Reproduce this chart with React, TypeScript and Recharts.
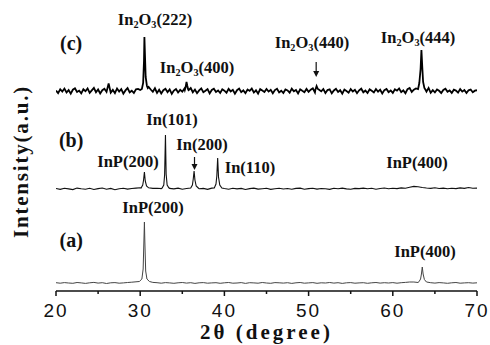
import React from "react";
import {
  LineChart,
  Line,
  XAxis,
  YAxis,
  ReferenceDot,
  ReferenceLine,
} from "recharts";

// background noise, 2θ from 20° in 0.5° steps (a, b) and 0.25° steps (c)
const bgA = [
  0.3, -0.2, 0.4, 0.0, -0.3, 0.5, 0.1, -0.4, 0.2, 0.6,
  -0.1, 0.3, -0.5, 0.2, 0.4, -0.2, 0.1, 0.5, 0.8, 1.2,
  1.5, 2.0, 1.2, 0.6, 0.3, -0.2, 0.4, 0.1, -0.3, 0.2,
  0.5, -0.1, 0.3, -0.4, 0.2, 0.4, -0.2, 0.1, 0.3, -0.3,
  0.2, 0.5, -0.2, 0.0, 0.4, -0.4, 0.3, 0.1, -0.2, 0.5,
  0.0, -0.3, 0.4, 0.2, -0.1, 0.3, -0.4, 0.2, 0.5, -0.2,
  0.1, 0.4, -0.3, 0.2, 0.0, 0.5, -0.1, 0.3, -0.4, 0.2,
  0.4, -0.2, 0.1, 0.3, -0.3, 0.2, 0.5, -0.1, 0.3, 0.0,
  0.4, -0.2, 0.3, 0.6, 1.0, 1.0, 0.5, 0.2, -0.3, 0.3,
  -0.1, 0.4, 0.1, -0.3, 0.2, 0.5, -0.2, 0.1, 0.3, -0.1,
  0.2,
];

const bgB = [
  0.5, -0.4, 0.8, 0.1, -0.6, 0.9, 0.2, -0.3, 0.7, -0.5,
  0.4, 1.0, -0.2, 0.6, -0.7, 0.3, 0.8, -0.1, 0.5, 0.9,
  1.2, 2.0, 1.0, 0.6, 0.8, 0.4, -0.2, 0.6, 0.1, 0.9,
  -0.3, 0.5, 0.8, 0.4, 0.2, 0.6, -0.4, 0.9, 0.3, 0.7,
  0.5, -0.2, 0.8, 0.1, 0.6, -0.5, 0.4, 0.9, -0.1, 0.3,
  0.7, -0.4, 0.2, 0.8, 0.0, 0.5, -0.3, 0.6, 0.9, -0.2,
  0.4, 0.8, -0.1, 0.5, 0.2, -0.4, 0.7, 0.3, 0.9, 0.1,
  -0.3, 0.6, 0.4, 0.9, 0.2, 0.7, -0.2, 0.5, 1.0, 0.3,
  0.8, 0.4, 1.1, 0.7, 1.8, 2.6, 2.2, 1.5, 1.0, 0.6,
  1.2, 0.5, 0.9, 0.2, 0.8, 0.4, 1.1, 0.6, 1.5, 0.7,
  0.9,
];

const bgC = [
  0.5, -2.1, 1.8, -0.6, 2.4, -1.5, 0.9, -2.6, 1.3, 2.8,
  -1.0, 0.4, -2.3, 1.7, -0.2, 2.6, -1.8, 0.7, 3.2, -1.2,
  1.5, -2.4, 0.8, 2.2, -0.9, 7.5, -1.6, 1.1, -2.2, 2.5,
  -0.5, 1.9, -2.7, 0.6, 2.9, -1.3, 0.3, -2.0, 1.6, 2.1,
  1.0, -1.4, 2.0, 3.1, 4.0, 1.5, -0.8, 2.7, -1.9, 1.2,
  -2.5, 0.8, 2.3, -1.1, 1.6, -2.8, 0.4, 2.0, -1.5, 1.1,
  -0.7, 2.4, -1.6, 0.9, 3.0, -1.2, 1.5, -2.2, 0.6, 2.6,
  -1.3, 0.2, 1.9, -2.4, 1.0, 2.3, -0.9, 0.5, -2.0, 1.7,
  0.3, -1.8, 2.1, -0.4, 1.2, -2.6, 0.8, 2.4, -1.1, 0.6,
  -2.2, 1.4, 0.1, 2.5, -1.5, 0.7, -2.7, 1.8, 0.4, -1.0,
  2.0, -0.6, 1.1, -2.3, 0.9, 2.2, -1.4, 0.3, -2.0, 1.5,
  0.6, -1.7, 2.4, -0.3, 1.0, -2.5, 1.7, 0.2, -1.2, 2.1,
  -0.8, 1.3, 2.6, -1.5, 3.0, 1.2, -0.4, 2.0, -2.1, 0.9,
  1.6, -2.4, 0.5, 2.2, -1.0, 0.8, -2.6, 1.4, 0.0, -1.6,
  1.9, -0.5, 1.2, -2.2, 0.7, 2.3, -1.3, 0.4, -2.0, 1.6,
  0.2, -1.5, 2.0, -0.7, 1.3, -2.4, 0.9, 2.1, -1.1, 0.5,
  -1.9, 1.7, 0.3, 2.5, -1.2, 0.6, -2.2, 1.8, 3.0, -0.9,
  1.4, 2.6, -1.3, 0.8, 2.0, 1.2, -0.6, 3.1, -1.8, 0.9,
  -1.4, 1.6, 0.2, -2.1, 1.1, 2.3, -0.8, 0.5, -1.9, 1.3,
  0.4, -1.6, 1.9, -0.6, 1.0, -2.0, 0.7, 1.5, -1.2, 0.3,
  0.8,
];

// diffraction peaks as [2θ, intensity] points
const peaksA = [
  [[29.9, 1.5], [30.2, 4], [30.35, 14], [30.45, 45], [30.5, 61], [30.55, 42], [30.65, 12], [30.8, 4], [31.1, 1.5]],
  [[63.1, 1.2], [63.3, 4], [63.4, 9], [63.5, 16], [63.6, 9], [63.75, 3.5], [64.0, 1]],
];

const peaksB = [
  [[30.1, 1], [30.3, 4], [30.4, 9], [30.5, 17], [30.6, 8], [30.75, 3], [31.0, 1.2]],
  [[32.6, 1], [32.8, 4], [32.9, 14], [33.0, 54], [33.08, 15], [33.2, 4], [33.4, 1.2]],
  [[36.0, 1], [36.2, 4], [36.3, 10], [36.4, 18], [36.5, 9], [36.65, 3], [36.9, 1]],
  [[38.8, 1], [39.0, 5], [39.1, 13], [39.2, 31], [39.3, 12], [39.45, 4], [39.7, 1]],
];

const peaksC = [
  [[30.2, 2], [30.35, 8], [30.45, 30], [30.5, 54], [30.55, 40], [30.65, 14], [30.8, 5], [30.9, 3]],
  [[35.3, 1], [35.4, 4], [35.5, 9], [35.6, 5], [35.7, 1.5]],
  [[50.8, 1], [50.95, 5], [51.1, 2]],
  [[63.0, 2], [63.15, 8], [63.3, 22], [63.4, 41], [63.5, 24], [63.6, 9], [63.75, 3], [63.9, 1]],
];

// vertical stacking of the three patterns
const stackOffsets = { a: 8, b: 102, c: 200 };

const xTicks = [20, 25, 30, 35, 40, 45, 50, 55, 60, 65, 70];

const annotations = [
  { text: "(c)", t: 21.8, v: 241, size: 20 },
  { text: "In_2O_3(222)", t: 31.76, v: 266, size: 16.5 },
  { text: "In_2O_3(400)", t: 36.75, v: 218, size: 16.5 },
  { text: "In_2O_3(440)", t: 50.4, v: 243, size: 16.5 },
  { text: "In_2O_3(444)", t: 63.0, v: 248, size: 16.5 },
  { text: "(b)", t: 21.8, v: 144, size: 20 },
  { text: "In(101)", t: 33.78, v: 166, size: 16.5 },
  { text: "In(200)", t: 37.34, v: 141, size: 16.5 },
  { text: "InP(200)", t: 28.55, v: 124, size: 16.5 },
  { text: "In(110)", t: 43.04, v: 118, size: 16.5 },
  { text: "InP(400)", t: 62.87, v: 123, size: 16.5 },
  { text: "InP(200)", t: 31.52, v: 78, size: 16.5 },
  { text: "(a)", t: 21.8, v: 44, size: 20 },
  { text: "InP(400)", t: 63.82, v: 34, size: 16.5 },
];

const arrows = [
  { t: 36.45, from: 134, to: 121 },
  { t: 50.9, from: 229, to: 214 },
];

const SERIF = "'Liberation Serif', 'Times New Roman', serif";

function buildPattern(bg: number[], step: number, peaks: number[][][], offset: number) {
  const pts: { t: number; v: number }[] = [];
  bg.forEach((v, i) => {
    const t = 20 + i * step;
    if (peaks.some((p) => t >= p[0][0] && t <= p[p.length - 1][0])) return;
    pts.push({ t, v: v + offset });
  });
  peaks.forEach((p) => p.forEach(([t, v]) => pts.push({ t, v: v + offset })));
  return pts.sort((a, b) => a.t - b.t);
}

const dataA = buildPattern(bgA, 0.5, peaksA, stackOffsets.a);
const dataB = buildPattern(bgB, 0.5, peaksB, stackOffsets.b);
const dataC = buildPattern(bgC, 0.25, peaksC, stackOffsets.c);

const AnnText = ({ cx, cy, text, size }: any) => {
  const parts = text.split(/(_\d)/).filter(Boolean);
  return (
    <text x={cx} y={cy} textAnchor="middle" fontFamily={SERIF} fontWeight="bold" fontSize={size} fill="#111">
      {parts.map((p: string, i: number) => {
        if (p.startsWith("_")) {
          return (
            <tspan key={i} fontSize={size * 0.62} dy={3}>
              {p.slice(1)}
            </tspan>
          );
        }
        const prevSub = i > 0 && parts[i - 1].startsWith("_");
        return (
          <tspan key={i} dy={prevSub ? -3 : 0}>
            {p}
          </tspan>
        );
      })}
    </text>
  );
};

const ArrowHead = ({ cx, cy }: any) => (
  <path d={`M${cx - 3},${cy - 6} L${cx + 3},${cy - 6} L${cx},${cy} Z`} fill="#111" />
);

const XTick = ({ x, y, payload }: any) => {
  const major = payload.value % 10 === 0;
  return (
    <g>
      <line x1={x} x2={x} y1={y} y2={y + (major ? 5 : 3)} stroke="#111" strokeWidth={1.5} />
      {major && (
        <text
          x={x}
          y={y + 26}
          textAnchor="middle"
          fontFamily="'Liberation Sans', Arial, sans-serif"
          fontSize={19}
          letterSpacing={2}
          fill="#111"
        >
          {payload.value}
        </text>
      )}
    </g>
  );
};

const YTitle = ({ viewBox }: any) => {
  const cx = viewBox.x + 21;
  const cy = viewBox.y + viewBox.height / 2 + 16;
  return (
    <text
      x={cx}
      y={cy}
      transform={`rotate(-90 ${cx} ${cy})`}
      textAnchor="middle"
      dominantBaseline="central"
      fontFamily={SERIF}
      fontWeight="bold"
      fontSize={21}
      letterSpacing={1.8}
      fill="#111"
    >
      Intensity(a.u.)
    </text>
  );
};

export default function App() {
  return (
    <div style={{ position: "absolute", left: 0, top: 0, width: 490, height: 345, background: "#fff" }}>
      <LineChart width={490} height={345} margin={{ top: 0, right: 13, bottom: 0, left: 0 }}>
        <XAxis
          type="number"
          dataKey="t"
          domain={[20, 70]}
          ticks={xTicks}
          allowDataOverflow
          height={54}
          tickSize={0}
          tickMargin={0}
          tickLine={false}
          tick={<XTick />}
          axisLine={{ stroke: "#111", strokeWidth: 1.5 }}
          interval={0}
          label={{
            value: "2θ (degree)",
            position: "insideBottom",
            offset: 6,
            style: {
              fontFamily: SERIF,
              fontWeight: "bold",
              fontSize: 21,
              letterSpacing: 3,
              fill: "#111",
            },
          }}
        />
        <YAxis
          type="number"
          dataKey="v"
          domain={[0, 291]}
          width={56}
          axisLine={false}
          tickLine={false}
          tick={false}
          label={{ content: <YTitle /> }}
        />
        <Line data={dataA} dataKey="v" type="linear" stroke="#444" strokeWidth={1} dot={false} isAnimationActive={false} />
        <Line data={dataB} dataKey="v" type="linear" stroke="#111" strokeWidth={1.1} dot={false} isAnimationActive={false} />
        <Line data={dataC} dataKey="v" type="linear" stroke="#000" strokeWidth={1.8} dot={false} isAnimationActive={false} />
        {arrows.map((a, i) => (
          <ReferenceLine
            key={`al${i}`}
            segment={[
              { x: a.t, y: a.from },
              { x: a.t, y: a.to + 3 },
            ]}
            stroke="#111"
            strokeWidth={1.2}
            ifOverflow="visible"
          />
        ))}
        {arrows.map((a, i) => (
          <ReferenceDot key={`ah${i}`} x={a.t} y={a.to} r={1} ifOverflow="visible" shape={(p: any) => <ArrowHead cx={p.cx} cy={p.cy} />} />
        ))}
        {annotations.map((a, i) => (
          <ReferenceDot
            key={`an${i}`}
            x={a.t}
            y={a.v}
            r={1}
            ifOverflow="visible"
            shape={(p: any) => <AnnText cx={p.cx} cy={p.cy} text={a.text} size={a.size} />}
          />
        ))}
      </LineChart>
    </div>
  );
}
